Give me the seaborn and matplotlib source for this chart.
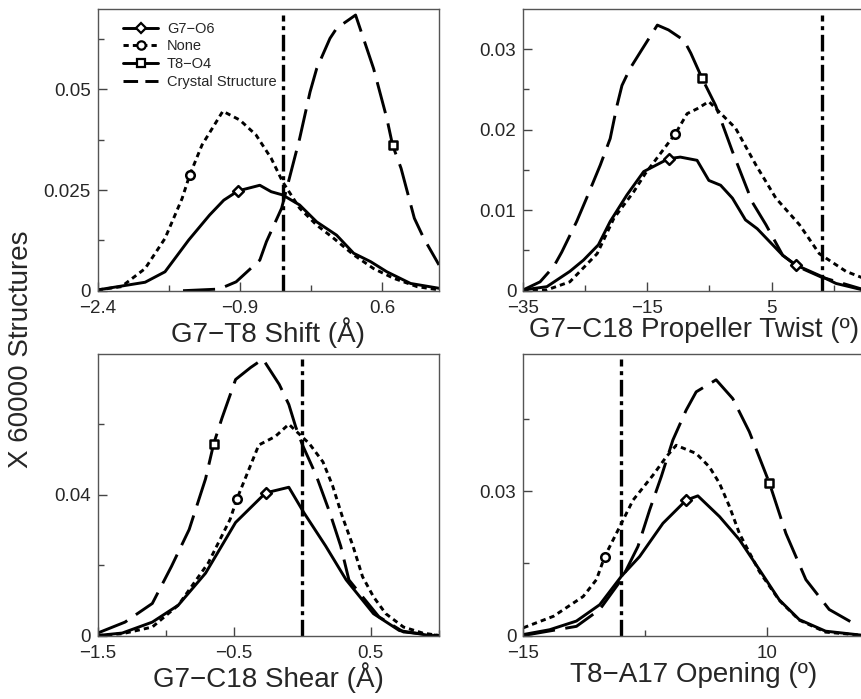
import pandas as pd
import matplotlib.pyplot as plt
from matplotlib.lines import Line2D
import seaborn as sns

# ---- G7-T8 Shift (A) ----
shift_g7o6_x = [-2.4, -1.9, -1.69, -1.44, -1.22, -1.07, -0.92, -0.69, -0.57, -0.45, -0.27, -0.09, 0.12, 0.3, 0.48, 0.65, 0.9, 1.2]
shift_g7o6_y = [0.0002, 0.0021, 0.0047, 0.0126, 0.0188, 0.0225, 0.0248, 0.0262, 0.0246, 0.0238, 0.0213, 0.0171, 0.0138, 0.0093, 0.0072, 0.0047, 0.0018, 0.0006]
shift_none_x = [-2.4, -2.15, -1.9, -1.69, -1.51, -1.43, -1.3, -1.08, -0.9, -0.73, -0.57, -0.45, -0.27, -0.09, 0.09, 0.3, 0.51, 0.72, 0.97, 1.2]
shift_none_y = [0.0002, 0.001, 0.0055, 0.013, 0.0229, 0.0287, 0.0362, 0.0446, 0.0424, 0.0387, 0.0329, 0.0271, 0.0205, 0.0163, 0.013, 0.0089, 0.0055, 0.0031, 0.001, 0.0002]
shift_t8o4_x = [-1.5, -1.12, -0.94, -0.69, -0.62, -0.46, -0.27, -0.16, -0.09, 0.05, 0.12, 0.32, 0.51, 0.65, 0.71, 0.8, 0.94, 1.04, 1.2]
shift_t8o4_y = [0.0, 0.0004, 0.0022, 0.0076, 0.0122, 0.0205, 0.0378, 0.0494, 0.0552, 0.0627, 0.0652, 0.0685, 0.0552, 0.0428, 0.0362, 0.0304, 0.018, 0.013, 0.0064]
shift_marks = {'g7o6': ([-0.92], [0.0248]), 'none': ([-1.43], [0.0287]), 't8o4': ([0.71], [0.0362])}
shift_crystal = -0.45

# ---- G7-C18 Propeller Twist (deg) ----
twist_g7o6_x = [-35, -31.2, -27.5, -25.3, -22.9, -21.0, -18.3, -15.6, -11.6, -9.7, -7.0, -5.1, -3.2, -1.3, 0.8, 2.7, 6.8, 8.9, 12.7, 15.4, 19.7]
twist_g7o6_y = [0.0001, 0.0005, 0.0024, 0.0038, 0.0057, 0.0086, 0.0119, 0.0148, 0.0164, 0.0166, 0.0162, 0.0137, 0.0131, 0.0115, 0.0088, 0.0077, 0.0044, 0.0032, 0.0019, 0.0009, 0.0001]
twist_none_x = [-35, -31.2, -27.5, -23.1, -20.4, -17.2, -15.3, -10.5, -8.6, -7.0, -5.1, -0.8, 2.5, 5.7, 9.5, 12.7, 17.0, 20.0]
twist_none_y = [0.0, 0.0001, 0.0011, 0.0046, 0.009, 0.0123, 0.0146, 0.0195, 0.022, 0.0226, 0.0235, 0.0202, 0.0156, 0.0115, 0.0082, 0.0046, 0.0024, 0.0015]
twist_t8o4_x = [-35, -32.3, -30.1, -28.8, -26.4, -24.8, -22.6, -21.0, -19.9, -19.1, -17.8, -16.1, -13.4, -11.6, -9.1, -8.0, -6.2, -4.0, -1.3, 1.9, 4.1, 6.8, 9.2, 13.0, 20.0]
twist_t8o4_y = [0.0001, 0.0011, 0.003, 0.0048, 0.0086, 0.0115, 0.0156, 0.0189, 0.023, 0.0255, 0.0276, 0.0297, 0.033, 0.0324, 0.0311, 0.0295, 0.0264, 0.023, 0.0173, 0.011, 0.0082, 0.0044, 0.003, 0.0017, 0.0001]
twist_marks = {'g7o6': ([-11.6, 8.9], [0.0164, 0.0032]), 'none': ([-10.5], [0.0195]), 't8o4': ([-6.2], [0.0264])}
twist_crystal = 13.2

# ---- G7-C18 Shear (A) ----
shear_g7o6_x = [-1.5, -1.32, -1.1, -0.91, -0.71, -0.49, -0.27, -0.1, 0.01, 0.17, 0.32, 0.42, 0.52, 0.71, 0.93, 1.0]
shear_g7o6_y = [0.0, 0.0007, 0.0038, 0.0086, 0.0177, 0.0321, 0.0405, 0.0421, 0.0349, 0.0254, 0.0158, 0.011, 0.0062, 0.0014, 0.0, 0.0]
shear_none_x = [-1.5, -1.32, -1.1, -0.91, -0.69, -0.53, -0.48, -0.32, -0.2, -0.1, 0.05, 0.15, 0.22, 0.29, 0.37, 0.44, 0.52, 0.61, 0.74, 0.88, 1.0]
shear_none_y = [0.0, 0.0005, 0.0024, 0.0086, 0.0206, 0.033, 0.0388, 0.0541, 0.0565, 0.06, 0.0545, 0.0493, 0.0426, 0.034, 0.0254, 0.0167, 0.011, 0.0062, 0.0024, 0.0007, 0.0]
shear_t8o4_x = [-1.5, -1.3, -1.1, -0.96, -0.83, -0.71, -0.65, -0.59, -0.49, -0.38, -0.29, -0.17, -0.1, -0.05, 0.0, 0.1, 0.2, 0.28, 0.34, 0.44, 0.56, 0.74, 1.0]
shear_t8o4_y = [0.0007, 0.0038, 0.0091, 0.0196, 0.0301, 0.0445, 0.0545, 0.0617, 0.0727, 0.0761, 0.0785, 0.0713, 0.0656, 0.0593, 0.0541, 0.0455, 0.0349, 0.0254, 0.0158, 0.011, 0.0053, 0.001, 0.0]
shear_marks = {'g7o6': ([-0.27], [0.0405]), 'none': ([-0.48], [0.0388]), 't8o4': ([-0.65], [0.0545])}
shear_crystal = 0.0

# ---- T8-A17 Opening (deg) ----
open_g7o6_x = [-15, -12.3, -9.55, -7.16, -4.94, -3.07, -0.68, 1.7, 2.9, 5.12, 7.16, 9.2, 11.25, 13.3, 16.0, 20.0]
open_g7o6_y = [0.0002, 0.0012, 0.003, 0.0064, 0.0123, 0.0164, 0.0233, 0.0281, 0.029, 0.0247, 0.0199, 0.0137, 0.0074, 0.0033, 0.0009, 0.0]
open_none_x = [-15, -11.9, -8.86, -7.5, -6.65, -5.11, -3.75, -1.7, -0.34, 0.68, 2.73, 4.09, 5.12, 6.14, 7.16, 9.2, 11.25, 13.3, 16.0, 20.0]
open_none_y = [0.0016, 0.004, 0.0081, 0.0116, 0.0164, 0.0226, 0.0281, 0.0333, 0.0371, 0.0395, 0.0378, 0.035, 0.0316, 0.0268, 0.0212, 0.0133, 0.0073, 0.0032, 0.0007, 0.0]
open_t8o4_x = [-15, -9.55, -7.16, -4.94, -3.24, -2.04, -0.85, 0.34, 1.7, 2.73, 4.77, 6.48, 8.18, 10.23, 11.93, 13.98, 16.37, 19.4]
open_t8o4_y = [0.0, 0.0019, 0.0054, 0.0116, 0.0185, 0.0261, 0.033, 0.0406, 0.0468, 0.0506, 0.0531, 0.0492, 0.0423, 0.0317, 0.0212, 0.0116, 0.0054, 0.0019]
open_marks = {'g7o6': ([1.7], [0.0281]), 'none': ([-6.65], [0.0164]), 't8o4': ([10.23], [0.0317])}
open_crystal = -5.0

# ---- axes text / ticks ----
xlabels = ['G7\u2212T8 Shift (Å)', 'G7\u2212C18 Propeller Twist (º)', 'G7\u2212C18 Shear (Å)', 'T8\u2212A17 Opening (º)']
xticks = [[-2.4, -0.9, 0.6], [-35, -15, 5], [-1.5, -0.5, 0.5], [-15, 10]]
xtick_labels = [['\u22122.4', '\u22120.9', '0.6'], ['\u221235', '\u221215', '5'], ['\u22121.5', '\u22120.5', '0.5'], ['\u221215', '10']]
xminor = [[-1.65, -0.15], [-25, -5, 15], [-1.0, 0.0, 1.0], [-2.5]]
yticks = [[0, 0.025, 0.05], [0, 0.01, 0.02, 0.03], [0, 0.04], [0, 0.03]]
ytick_labels = [['0', '0.025', '0.05'], ['0', '0.01', '0.02', '0.03'], ['0', '0.04'], ['0', '0.03']]
yminor = [[0.0125, 0.0375, 0.0625], [0.005, 0.015, 0.025], [0.02, 0.06], [0.015, 0.045]]
xlims = [(-2.4, 1.2), (-35, 20), (-1.5, 1.0), (-15, 20)]
ylims = [(0, 0.07), (0, 0.035), (0, 0.08), (0, 0.0585)]

sns.set_theme(style='ticks', rc={'xtick.direction': 'in', 'ytick.direction': 'in'})
plt.rcParams['font.family'] = ['Liberation Sans', 'DejaVu Sans']

fig = plt.figure(figsize=(8.62, 6.99), dpi=100)
w, h = 341.3 / 862, 281.7 / 699
positions = [(97.7 / 862, 1 - 290.7 / 699, w, h), (523.3 / 862, 1 - 290.7 / 699, w, h),
             (97.7 / 862, 1 - 635.5 / 699, w, h), (523.3 / 862, 1 - 635.5 / 699, w, h)]

panels = [
    ((shift_g7o6_x, shift_g7o6_y), (shift_none_x, shift_none_y), (shift_t8o4_x, shift_t8o4_y), shift_marks, shift_crystal),
    ((twist_g7o6_x, twist_g7o6_y), (twist_none_x, twist_none_y), (twist_t8o4_x, twist_t8o4_y), twist_marks, twist_crystal),
    ((shear_g7o6_x, shear_g7o6_y), (shear_none_x, shear_none_y), (shear_t8o4_x, shear_t8o4_y), shear_marks, shear_crystal),
    ((open_g7o6_x, open_g7o6_y), (open_none_x, open_none_y), (open_t8o4_x, open_t8o4_y), open_marks, open_crystal),
]

dotted = (0, (1.8, 1.4))
longdash = (0, (11, 3.6))
dashdot = (0, (5, 1.4, 1.2, 1.4))
lw = 2.1

for i, (g7, none, t8, marks, crystal) in enumerate(panels):
    ax = fig.add_axes(positions[i])
    df_g7 = pd.DataFrame({'x': g7[0], 'y': g7[1]})
    df_none = pd.DataFrame({'x': none[0], 'y': none[1]})
    df_t8 = pd.DataFrame({'x': t8[0], 'y': t8[1]})
    sns.lineplot(data=df_none, x='x', y='y', ax=ax, color='black', lw=lw, linestyle=dotted, errorbar=None)
    sns.lineplot(data=df_t8, x='x', y='y', ax=ax, color='black', lw=lw, linestyle=longdash, errorbar=None)
    sns.lineplot(data=df_g7, x='x', y='y', ax=ax, color='black', lw=lw, errorbar=None)
    ax.axvline(crystal, ymin=0, ymax=0.98, color='black', lw=2.4, linestyle=dashdot)
    for key, mk in [('g7o6', 'D'), ('none', 'o'), ('t8o4', 's')]:
        mx, my = marks[key]
        sns.scatterplot(x=mx, y=my, ax=ax, marker=mk, s=38 if mk != 'D' else 30,
                        color='white', edgecolor='black', linewidth=1.8, zorder=5, legend=False)

    ax.set_xlim(*xlims[i])
    ax.set_ylim(*ylims[i])
    ax.set_xticks(xticks[i])
    ax.set_xticklabels(xtick_labels[i])
    ax.set_xticks(xminor[i], minor=True)
    ax.set_yticks(yticks[i])
    ax.set_yticklabels(ytick_labels[i])
    ax.set_yticks(yminor[i], minor=True)
    ax.tick_params(which='major', length=6.5, width=1, color='#444', labelsize=13.5)
    ax.tick_params(axis='x', which='major', pad=7)
    ax.tick_params(axis='y', which='major', pad=5)
    ax.tick_params(which='minor', length=4.3, width=1, color='#444')
    ax.set_xlabel(xlabels[i], fontsize=20, labelpad=0)
    ax.set_ylabel('')
    for s in ax.spines.values():
        s.set_color('#555')
        s.set_linewidth(1)

    if i == 0:
        handles = [
            Line2D([], [], color='black', lw=lw, marker='D', ms=5.5, mfc='white', mec='black', mew=1.6),
            Line2D([], [], color='black', lw=lw, linestyle=dotted, marker='o', ms=6, mfc='white', mec='black', mew=1.6),
            Line2D([], [], color='black', lw=lw, marker='s', ms=6, mfc='white', mec='black', mew=1.6),
            Line2D([], [], color='black', lw=lw, linestyle=(0, (5, 2.5))),
        ]
        ax.legend(handles, ['G7\u2212O6', 'None', 'T8\u2212O4', 'Crystal Structure'],
                  loc='upper left', bbox_to_anchor=(0.075, 0.955), frameon=False, fontsize=10.5,
                  handlelength=2.4, handletextpad=0.6, labelspacing=0.25, borderaxespad=0, borderpad=0)

fig.text(0.024, 0.5, 'X 60000 Structures', rotation=90, fontsize=20, va='center', ha='center')

fig.savefig('out.png', dpi=100)
